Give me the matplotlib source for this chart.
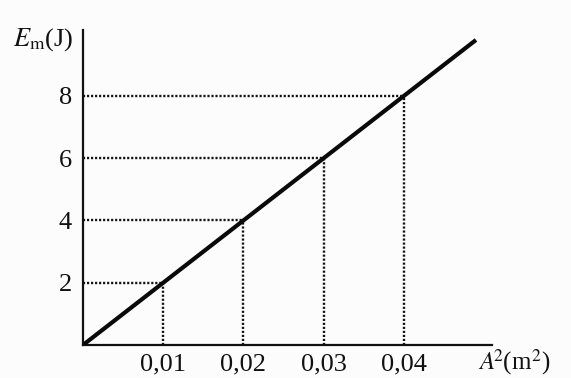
import matplotlib
matplotlib.use("Agg")
import matplotlib.pyplot as plt
import numpy as np

# data
A2 = [0.01, 0.02, 0.03, 0.04]          # m^2
Em = [2, 4, 6, 8]                        # J
x_ticklabels = ["0,01", "0,02", "0,03", "0,04"]
y_ticklabels = ["2", "4", "6", "8"]
line_x = [0.0, 0.049]
slope = Em[-1] / A2[-1]

plt.rcParams['font.family'] = ['Liberation Serif', 'DejaVu Serif']
plt.rcParams['mathtext.fontset'] = 'stix'

W, H = 571, 378
fig = plt.figure(figsize=(W / 100, H / 100), dpi=100)
fig.patch.set_facecolor('#fcfcfc')

ox, oy = 83, 345
xr, yt = 492, 30
ax = fig.add_axes([ox / W, (H - oy) / H, (xr - ox) / W, (oy - yt) / H])
ax.set_facecolor('none')
ax.set_xlim(0, 0.051)
ax.set_ylim(0, 10.12)

for s in ['top', 'right']:
    ax.spines[s].set_visible(False)
for s in ['left', 'bottom']:
    ax.spines[s].set_linewidth(1.6)
    ax.spines[s].set_color('#111111')

# main line
lx = np.array(line_x)
ax.plot(lx, slope * lx, color='#0a0a0a', lw=3.0, solid_capstyle='butt', zorder=3)

# dotted guides
for a, e in zip(A2, Em):
    ax.plot([0, a], [e, e], color='#111111', lw=1.7, linestyle=(0, (0.9, 0.8)), zorder=2)
    ax.plot([a, a], [0, e], color='#111111', lw=1.7, linestyle=(0, (0.9, 0.8)), zorder=2)

ax.set_xticks(A2)
ax.set_xticklabels(x_ticklabels)
ax.set_yticks(Em)
ax.set_yticklabels(y_ticklabels)
ax.tick_params(axis='both', length=0, labelsize=19, colors='#111111')
ax.tick_params(axis='x', pad=6)
ax.tick_params(axis='y', pad=8)

fig.text(13 / W, 1 - 40 / H, r'$E_{\mathrm{m}}$(J)', fontsize=19, color='#111111',
         ha='left', va='center')
fig.text(478 / W, 1 - 362 / H, r'$A^{\!\!2}$(m$^{2}$)', fontsize=18, color='#111111',
         ha='left', va='center')

fig.savefig('out.png', dpi=100, facecolor=fig.get_facecolor())
